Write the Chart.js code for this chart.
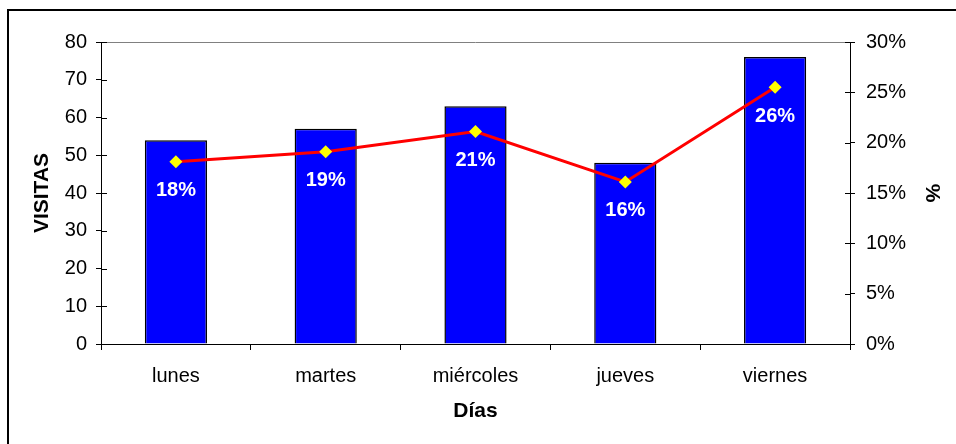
<!DOCTYPE html>
<html>
<head>
<meta charset="utf-8">
<script src="https://cdn.jsdelivr.net/npm/chart.js@4/dist/chart.umd.min.js"></script>
<style>
  html, body { margin: 0; padding: 0; background: #fff; }
  #wrap { width: 956px; height: 444px; position: relative; }
</style>
</head>
<body>
<div id="wrap"><canvas id="c" width="956" height="444"></canvas></div>
<script>
const categories = ['lunes', 'martes', 'miércoles', 'jueves', 'viernes'];
const visitas = [54, 57, 63, 48, 76];
const porcentaje = [18.1, 19.1, 21.1, 16.1, 25.5];
const leftTicks = [0, 10, 20, 30, 40, 50, 60, 70, 80];
const rightTicks = [0, 5, 10, 15, 20, 25, 30];

const FONT = 'Liberation Sans, Arial, sans-serif';
Chart.defaults.font.family = FONT;
Chart.defaults.color = '#000';

const decor = {
  id: 'decor',
  beforeDraw(chart) {
    const ctx = chart.ctx;
    ctx.save();
    ctx.fillStyle = '#fff';
    ctx.fillRect(0, 0, chart.width, chart.height);
    ctx.strokeStyle = '#000';
    ctx.lineWidth = 2;
    ctx.strokeRect(8, 10, chart.width + 20, chart.height + 20);
    ctx.restore();
  },
  beforeDatasetsDraw(chart) {
    const ctx = chart.ctx;
    const a = chart.chartArea;
    ctx.save();
    ctx.strokeStyle = '#808080';
    ctx.lineWidth = 1;
    ctx.beginPath();
    ctx.moveTo(a.left, Math.round(a.top) + 0.5);
    ctx.lineTo(a.right, Math.round(a.top) + 0.5);
    ctx.stroke();
    // inner halves of cross tick marks
    ctx.strokeStyle = '#000';
    const yl = chart.scales.y;
    leftTicks.forEach(v => {
      const p = Math.round(yl.getPixelForValue(v)) + 0.5;
      ctx.beginPath(); ctx.moveTo(a.left, p); ctx.lineTo(a.left + 6, p); ctx.stroke();
    });
    const yr = chart.scales.y2;
    rightTicks.forEach(v => {
      const p = Math.round(yr.getPixelForValue(v)) + 0.5;
      ctx.beginPath(); ctx.moveTo(a.right - 5, p); ctx.lineTo(a.right, p); ctx.stroke();
    });
    ctx.restore();
  },
  afterDatasetsDraw(chart) {
    const ctx = chart.ctx;
    const meta = chart.getDatasetMeta(1);
    ctx.save();
    ctx.fillStyle = '#fff';
    ctx.font = 'bold 20px ' + FONT;
    ctx.textAlign = 'center';
    ctx.textBaseline = 'middle';
    meta.data.forEach((pt, i) => {
      ctx.fillText(Math.round(porcentaje[i]) + '%', pt.x, pt.y + 29);
    });
    ctx.restore();
  }
};

new Chart(document.getElementById('c'), {
  type: 'bar',
  data: {
    labels: categories,
    datasets: [
      {
        type: 'bar',
        label: 'VISITAS',
        data: visitas,
        backgroundColor: '#0000FF',
        borderColor: '#000',
        borderWidth: 1.5,
        barPercentage: 0.415,
        categoryPercentage: 1,
        yAxisID: 'y',
        order: 2
      },
      {
        type: 'line',
        label: '%',
        data: porcentaje,
        borderColor: '#FF0000',
        borderWidth: 3,
        pointStyle: 'rectRot',
        pointRadius: 6.5,
        pointBackgroundColor: '#FFFF00',
        pointBorderColor: '#FFFF00',
        pointBorderWidth: 0,
        tension: 0,
        yAxisID: 'y2',
        order: 1
      }
    ]
  },
  options: {
    responsive: false,
    animation: false,
    events: [],
    layout: { padding: { top: 42, left: 0, right: 0, bottom: 0 } },
    plugins: { legend: { display: false }, tooltip: { enabled: false } },
    scales: {
      x: {
        offset: true,
        grid: { offset: true, drawOnChartArea: false, tickLength: 6, color: '#000' },
        border: { color: '#000', width: 1 },
        ticks: { font: { size: 20 }, padding: 14, maxRotation: 0 },
        title: { display: true, text: 'Días', font: { size: 21, weight: 'bold' }, padding: { top: 0, bottom: 20 } },
        afterFit(s) { s.height = 100; }
      },
      y: {
        position: 'left',
        min: 0, max: 80,
        afterBuildTicks(s) { s.ticks = leftTicks.map(v => ({ value: v })); },
        grid: { drawOnChartArea: false, tickLength: 5, color: '#000' },
        border: { color: '#000', width: 1 },
        ticks: { font: { size: 20 }, padding: 9 },
        title: { display: true, text: 'VISITAS', font: { size: 21, weight: 'bold' }, padding: { top: 30, bottom: 0 } },
        afterFit(s) { s.width = 101; }
      },
      y2: {
        position: 'right',
        min: 0, max: 30,
        afterBuildTicks(s) { s.ticks = rightTicks.map(v => ({ value: v })); },
        grid: { drawOnChartArea: false, tickLength: 5, color: '#000' },
        border: { color: '#000', width: 1 },
        ticks: { font: { size: 20 }, padding: 11, callback: v => v + '%' },
        title: { display: true, text: '%', font: { size: 21, weight: 'bold' }, padding: { top: 12, bottom: 0 } },
        afterFit(s) { s.width = 106; }
      }
    }
  },
  plugins: [decor]
});
</script>
</body>
</html>
